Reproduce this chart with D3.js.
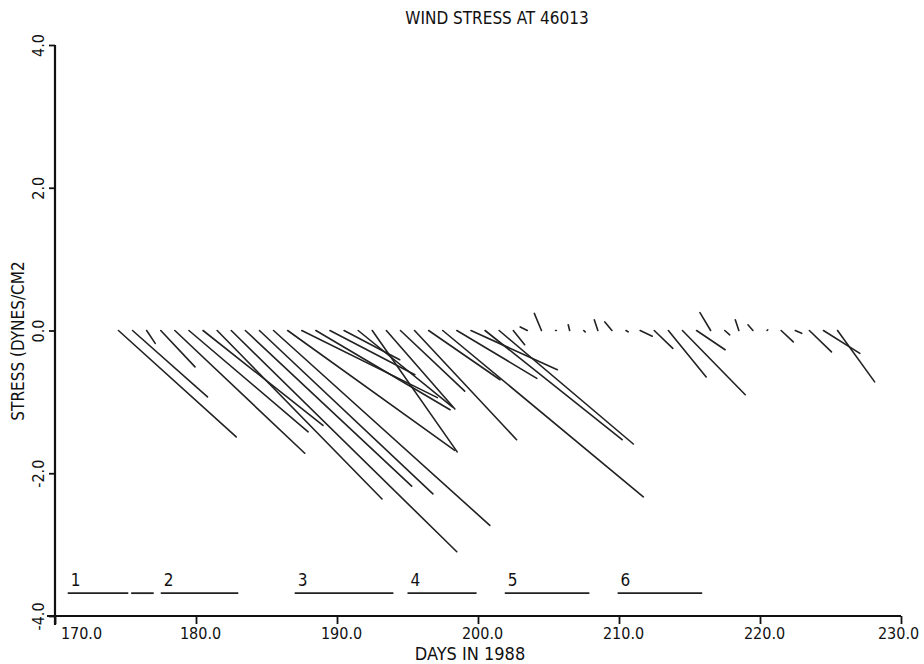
<!DOCTYPE html>
<html>
<head>
<meta charset="utf-8">
<script src="https://cdn.jsdelivr.net/npm/d3@7"></script>
<style>
  html, body { margin: 0; padding: 0; background: #fff; }
  svg { display: block; }
  text { font-family: "DejaVu Sans Condensed", "Liberation Sans Narrow", sans-serif; fill: #111; }
</style>
</head>
<body>
<svg id="chart" width="924" height="664"></svg>
<script>
// daily wind stress vectors at buoy 46013 (day of 1988, east u / north v, dynes/cm2)
const days = [174.5, 175.5, 176.5, 177.5, 178.5, 179.5, 180.5, 181.5, 182.5, 183.5,
  184.5, 185.5, 186.5, 187.5, 188.5, 189.5, 190.5, 191.5, 192.5, 193.5,
  194.5, 195.5, 196.5, 197.5, 198.5, 199.5, 200.5, 201.5, 202.5, 203.5,
  204.5, 205.5, 206.5, 207.5, 208.5, 209.5, 210.5, 211.5, 212.5, 213.5,
  214.5, 215.5, 216.5, 217.5, 218.5, 219.5, 220.5, 221.5, 222.5, 223.5,
  224.5, 225.5];
const uStress = [1.65, 1.05, 0.12, 0.48, 1.82, 1.67, 1.68, 2.31, 3.16, 2.33,
  2.43, 3.03, 2.34, 1.90, 1.88, 1.19, 0.78, 1.32, 1.19, 0.96,
  0.90, 1.43, 1.00, 2.81, 1.12, 1.21, 1.92, 1.88, 0.16, -0.10,
  -0.10, 0.01, -0.02, 0.02, -0.05, -0.10, 0.03, 0.17, 0.26, 0.53,
  0.88, 0.40, -0.15, 0.07, -0.05, -0.07, 0.01, 0.17, 0.09, 0.31,
  0.51, 0.52];
const vStress = [-1.49, -0.93, -0.18, -0.51, -1.72, -1.42, -1.33, -2.36, -3.10, -2.18,
  -2.29, -2.73, -1.68, -0.94, -1.11, -0.62, -0.41, -1.07, -1.70, -1.10,
  -0.85, -1.53, -0.69, -2.33, -0.67, -0.55, -1.53, -1.59, -0.20, 0.05,
  0.24, 0.00, 0.08, -0.02, 0.15, 0.12, -0.02, -0.08, -0.25, -0.65,
  -0.90, -0.27, 0.25, -0.06, 0.15, 0.08, 0.01, -0.16, -0.04, -0.30,
  -0.32, -0.72];

// numbered periods drawn along the bottom
const periodLabels = ["1", "", "2", "3", "4", "5", "6"];
const periodStart = [170.9, 175.4, 177.5, 187.0, 195.0, 201.9, 209.9];
const periodEnd   = [175.2, 177.0, 183.0, 194.0, 199.9, 207.9, 215.9];
const periodLevel = -3.68;

const xTicks = [170, 180, 190, 200, 210, 220, 230];
const yTicks = [-4, -2, 0, 2, 4];

const svg = d3.select("#chart");
const x = d3.scaleLinear().domain([170, 230]).range([55, 901]);
const y = d3.scaleLinear().domain([-4, 4]).range([616, 45]);
// stress -> pixel length, same scale as the vertical axis
const len = s => y(0) - y(s);
// plotter style labels use a plain hyphen
const fmt = d => d3.format(".1f")(d).replace("\u2212", "-");

// sticks
svg.append("g")
  .selectAll("line")
  .data(days.map((d, i) => ({ d, u: uStress[i], v: vStress[i] })))
  .join("line")
  .attr("x1", p => x(p.d))
  .attr("y1", y(0))
  .attr("x2", p => x(p.d) + len(p.u))
  .attr("y2", p => y(p.v))
  .attr("stroke", "#222")
  .attr("stroke-width", 1.6)
  .attr("stroke-linecap", "round");

// period bars
const per = svg.append("g");
per.selectAll("line")
  .data(periodStart.map((s, i) => ({ s, e: periodEnd[i], t: periodLabels[i] })))
  .join("line")
  .attr("x1", p => x(p.s))
  .attr("x2", p => x(p.e))
  .attr("y1", y(periodLevel))
  .attr("y2", y(periodLevel))
  .attr("stroke", "#222")
  .attr("stroke-width", 1.8);
per.selectAll("text")
  .data(periodStart.map((s, i) => ({ s, t: periodLabels[i] })).filter(p => p.t))
  .join("text")
  .attr("x", p => x(p.s) + 3)
  .attr("y", y(periodLevel) - 7)
  .attr("font-size", 17)
  .text(p => p.t);

// x axis
const xAxis = svg.append("g")
  .attr("transform", `translate(0,${y(-4)})`)
  .call(d3.axisBottom(x).tickValues(xTicks).tickFormat(fmt).tickSize(8).tickSizeOuter(0));
xAxis.select(".domain").attr("stroke", "#111").attr("stroke-width", 2.2)
  .attr("d", `M47,0H${x(230)}`);
xAxis.selectAll(".tick line").attr("stroke", "#111").attr("stroke-width", 1.8);
xAxis.selectAll(".tick text").attr("font-size", 16).attr("y", 10).attr("dy", "0.8em")
  .attr("font-family", "\"DejaVu Sans Condensed\", sans-serif").attr("fill", "#111")
  .attr("dx", d => d === 170 ? 26 : d === 230 ? -3 : 4);

// y axis
const yAxis = svg.append("g")
  .attr("transform", `translate(${x(170)},0)`)
  .call(d3.axisLeft(y).tickValues(yTicks).tickFormat(fmt).tickSize(6).tickSizeOuter(0));
yAxis.select(".domain").attr("stroke", "#111").attr("stroke-width", 2.2)
  .attr("d", `M0,${y(4)}V${y(-4) + 9}`);
yAxis.selectAll(".tick line").attr("stroke", "#111").attr("stroke-width", 1.8);
yAxis.selectAll(".tick text")
  .attr("font-size", 16)
  .attr("font-family", "\"DejaVu Sans Condensed\", sans-serif").attr("fill", "#111")
  .attr("x", null).attr("dy", null)
  .attr("text-anchor", "middle")
  .attr("transform", "translate(-11,0) rotate(-90)");

// titles
svg.append("text")
  .attr("x", 497).attr("y", 24)
  .attr("text-anchor", "middle")
  .attr("font-size", 17)
  .text("WIND STRESS AT 46013");

svg.append("text")
  .attr("x", 470).attr("y", 660)
  .attr("text-anchor", "middle")
  .attr("font-size", 18)
  .text("DAYS IN 1988");

svg.append("text")
  .attr("transform", "translate(24,341) rotate(-90)")
  .attr("text-anchor", "middle")
  .attr("font-size", 17)
  .text("STRESS (DYNES/CM2");
</script>
</body>
</html>
